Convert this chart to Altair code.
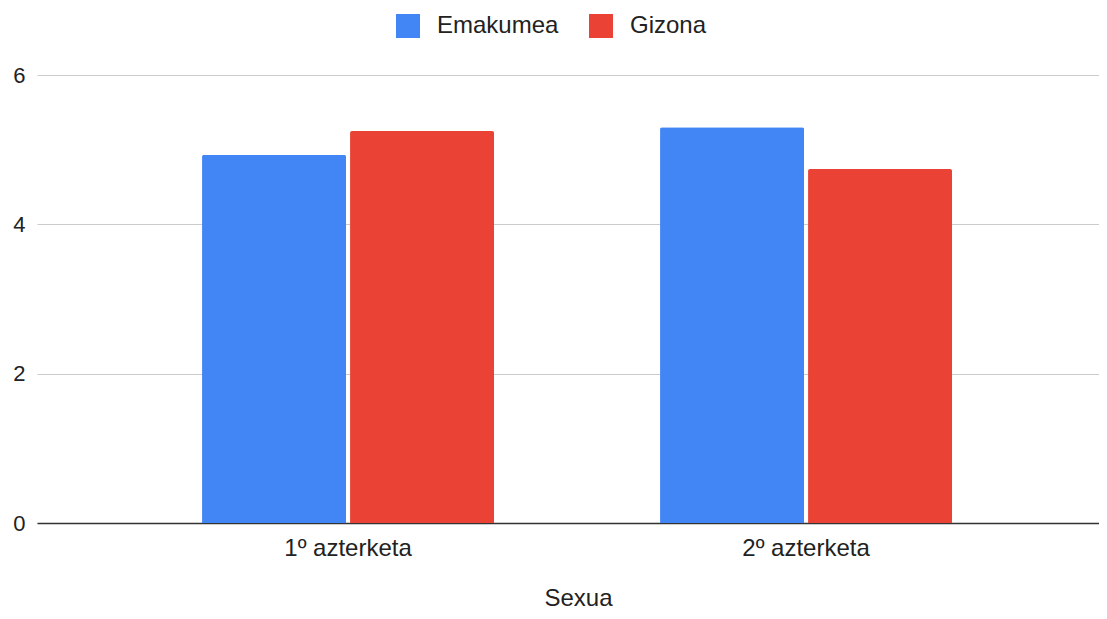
import altair as alt
import pandas as pd

categories = ["1º azterketa", "2º azterketa"]
series = ["Emakumea", "Gizona"]
emakumea = [4.93, 5.30]
gizona = [5.25, 4.74]
colors = ["#4285F4", "#EA4335"]
y_ticks = [0, 2, 4, 6]

rows = []
for i, c in enumerate(categories):
    rows.append({"Sexua": c, "Serie": series[0], "Balioa": emakumea[i]})
    rows.append({"Sexua": c, "Serie": series[1], "Balioa": gizona[i]})
df = pd.DataFrame(rows)

FONT = "Liberation Sans"

chart = alt.Chart(df).mark_bar(
    cornerRadiusTopLeft=2, cornerRadiusTopRight=2
).encode(
    x=alt.X(
        "Sexua:N",
        sort=categories,
        scale=alt.Scale(paddingInner=0.3624, paddingOuter=0.3406, align=0.529),
        axis=alt.Axis(
            title="Sexua",
            labelAngle=0,
            ticks=False,
            grid=False,
            domainColor="#333333",
            domainWidth=1.5,
            labelFont=FONT,
            labelFontSize=24,
            labelColor="#222222",
            labelPadding=13,
            titleFont=FONT,
            titleFontSize=24,
            titleFontWeight="normal",
            titleColor="#222222",
            titleBaseline="alphabetic",
            titleAlign="center",
            titleX=541,
            titleY=82,
        ),
    ),
    xOffset=alt.XOffset("Serie:N", sort=series, scale=alt.Scale(paddingInner=0.027, paddingOuter=0)),
    y=alt.Y(
        "Balioa:Q",
        scale=alt.Scale(domain=[0, 6]),
        axis=alt.Axis(
            title=None,
            values=y_ticks,
            format="d",
            domain=False,
            ticks=False,
            gridColor="#cccccc",
            gridWidth=1,
            labelFont=FONT,
            labelFontSize=22,
            labelColor="#222222",
            labelPadding=12,
        ),
    ),
    color=alt.Color(
        "Serie:N",
        sort=series,
        scale=alt.Scale(domain=series, range=colors),
        legend=alt.Legend(
            title=None,
            orient="none",
            direction="horizontal",
            legendX=359,
            legendY=-61,
            symbolType="square",
            symbolSize=576,
            symbolStrokeWidth=0,
            symbolOpacity=1,
            labelFont=FONT,
            labelFontSize=24,
            labelColor="#222222",
            labelOffset=17,
            columnPadding=30,
        ),
    ),
).properties(
    width=1062,
    height=448,
    autosize=alt.AutoSizeParams(type="none"),
    padding={"left": 29, "top": 67, "right": 0, "bottom": 88},
).configure_view(stroke=None)

chart.save("out.html", embed_options={"renderer": "svg", "actions": False})
